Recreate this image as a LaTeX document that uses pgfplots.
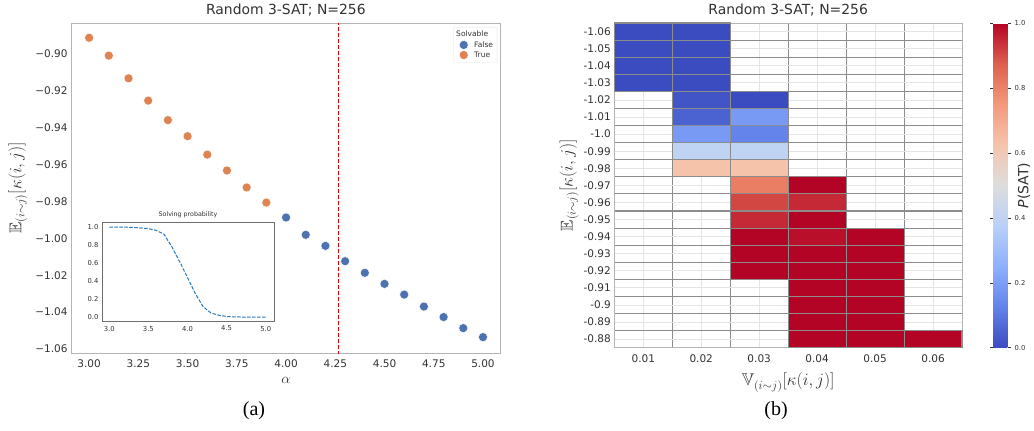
\documentclass[border=0pt]{standalone}
\usepackage{fontspec}
\usepackage{amsmath,amssymb}
\usepackage{pgfplots}
\pgfplotsset{compat=1.18}
\setmainfont{DejaVu Sans}
\newfontfamily\timesf{Liberation Serif}
\definecolor{sbblue}{RGB}{76,114,176}
\definecolor{sborange}{RGB}{221,132,82}
\definecolor{tickgray}{RGB}{50,50,50}
\definecolor{framegray}{RGB}{180,180,180}
\definecolor{insetgray}{RGB}{110,110,110}
\definecolor{insetblue}{RGB}{40,120,190}
\definecolor{cellgray}{RGB}{140,140,140}
\definecolor{gridfaint}{RGB}{228,228,228}
\pgfplotsset{colormap={coolwarm}{rgb255=(59,76,192) rgb255=(98,130,234) rgb255=(141,176,254) rgb255=(184,208,249) rgb255=(221,221,221) rgb255=(245,196,172) rgb255=(244,154,123) rgb255=(222,96,77) rgb255=(180,4,38)}}
\pgfdeclareplotmark{cell}{\pgfpathrectangle{\pgfpoint{-28.975pt}{-8.545pt}}{\pgfpoint{57.95pt}{17.09pt}}\pgfusepathqfillstroke}
\begin{document}
\begin{tikzpicture}
\useasboundingbox (0pt,0pt) rectangle (1034pt,-431pt);
% ---------------- left panel ----------------
\begin{axis}[
  at={(71pt,-353pt)}, anchor=south west,
  scale only axis, width=429.7pt, height=330pt,
  xmin=2.908, xmax=5.09, ymin=-1.0622, ymax=-0.8832,
  axis line style={framegray, line width=0.9pt},
  major tick length=0pt,
  xtick={3,3.25,3.5,3.75,4,4.25,4.5,4.75,5},
  xticklabels={3.00,3.25,3.50,3.75,4.00,4.25,4.50,4.75,5.00},
  ytick={-1.06,-1.04,-1.02,-1.00,-0.98,-0.96,-0.94,-0.92,-0.90},
  yticklabels={−1.06,−1.04,−1.02,−1.00,−0.98,−0.96,−0.94,−0.92,−0.90},
  tick label style={font=\fontsize{10.5}{12}\selectfont, text=tickgray},
  xticklabel style={yshift=-3pt},
  title={Random 3-SAT; N=256},
  title style={font=\fontsize{13.9}{16}\selectfont, text=tickgray, yshift=-3pt},
  xlabel={$\alpha$},
  xlabel style={font=\fontsize{15}{17}\selectfont, text=tickgray, yshift=-3pt},
  ylabel={$\mathbb{E}_{(i\sim j)}[\kappa(i,j)]$},
  ylabel style={font=\fontsize{17}{19}\selectfont, text=tickgray, yshift=1pt},
  legend style={at={(0.992,0.988)}, anchor=north east, draw=gridfaint, rounded corners=1pt,
    font=\fontsize{7.5}{9}\selectfont, text=tickgray, row sep=-1pt, inner sep=2pt},
  legend cell align=left,
]
\addlegendimage{empty legend}
\addlegendentry{\hspace{-14pt}Solvable}
\addplot[only marks, mark=*, mark size=4.5pt, mark options={fill=sbblue, draw=white, line width=0.4pt}]
 coordinates {(4.0,-0.9887) (4.1,-0.9981) (4.2,-1.0041) (4.3,-1.0124) (4.4,-1.0187) (4.5,-1.0247)
 (4.6,-1.0305) (4.7,-1.0370) (4.8,-1.0427) (4.9,-1.0487) (5.0,-1.0536)};
\addlegendentry{\hspace{4pt}False}
\addplot[only marks, mark=*, mark size=4.5pt, mark options={fill=sborange, draw=white, line width=0.4pt}]
 coordinates {(3.0,-0.8912) (3.1,-0.9009) (3.2,-0.9132) (3.3,-0.9253) (3.4,-0.9359) (3.5,-0.9446)
 (3.6,-0.9546) (3.7,-0.9632) (3.8,-0.9724) (3.9,-0.9806)};
\addlegendentry{\hspace{4pt}True}
\addplot[red!90!black, dashed, line width=1pt, dash pattern=on 4pt off 2pt, forget plot]
 coordinates {(4.267,-1.07) (4.267,-0.87)};
\end{axis}
% ---------------- inset ----------------
\begin{axis}[
  at={(102pt,-321pt)}, anchor=south west,
  scale only axis, width=172pt, height=98.3pt,
  xmin=2.907, xmax=5.106, ymin=-0.044, ymax=1.048,
  axis line style={insetgray, line width=0.8pt},
  axis background/.style={fill=white},
  major tick length=0pt,
  xtick={3,3.5,4,4.5,5}, xticklabels={3.0,3.5,4.0,4.5,5.0},
  ytick={0,0.2,0.4,0.6,0.8,1.0}, yticklabels={0.0,0.2,0.4,0.6,0.8,1.0},
  tick label style={font=\fontsize{6.8}{8}\selectfont, text=tickgray},
  xticklabel style={yshift=-1.5pt},
  title={Solving probability},
  title style={font=\fontsize{6.3}{7}\selectfont, text=tickgray, yshift=-5pt},
]
\addplot[insetblue, dashed, line width=1pt, dash pattern=on 3.5pt off 1.5pt]
 coordinates {(3.0,1.0) (3.1,1.0) (3.2,1.0) (3.3,0.995) (3.4,0.99) (3.5,0.982) (3.6,0.963)
 (3.7,0.92) (3.8,0.78) (3.9,0.615) (4.0,0.44) (4.1,0.26) (4.2,0.115) (4.3,0.045) (4.4,0.02)
 (4.5,0.006) (4.6,0.002) (4.7,0.0) (4.8,0.0) (4.9,0.0) (5.0,0.0)};
\end{axis}
% ---------------- right panel (heatmap) ----------------
\begin{axis}[
  at={(614.3pt,-347.7pt)}, anchor=south west,
  scale only axis, width=347.7pt, height=324.7pt,
  xmin=0.005, xmax=0.065, ymin=-1.065, ymax=-0.875, y dir=reverse,
  scaled x ticks=false, scaled y ticks=false,
  axis line style={framegray, line width=0.9pt},
  major tick length=0pt, minor tick length=0pt,
  xtick={0.01,0.02,0.03,0.04,0.05,0.06},
  xticklabels={0.01,0.02,0.03,0.04,0.05,0.06},
  minor xtick={0.015,0.025,0.035,0.045,0.055},
  ytick={-1.06,-1.05,-1.04,-1.03,-1.02,-1.01,-1.0,-0.99,-0.98,-0.97,-0.96,-0.95,-0.94,-0.93,-0.92,-0.91,-0.9,-0.89,-0.88},
  yticklabels={-1.06,-1.05,-1.04,-1.03,-1.02,-1.01,-1.0,-0.99,-0.98,-0.97,-0.96,-0.95,-0.94,-0.93,-0.92,-0.91,-0.9,-0.89,-0.88},
  minor ytick={-1.055,-1.045,-1.035,-1.025,-1.015,-1.005,-0.995,-0.985,-0.975,-0.965,-0.955,-0.945,-0.935,-0.925,-0.915,-0.905,-0.895,-0.885},
  grid=both,
  major grid style={gridfaint, line width=0.8pt},
  minor grid style={cellgray, line width=1.1pt},
  tick label style={font=\fontsize{10.5}{12}\selectfont, text=tickgray},
  xticklabel style={yshift=-3pt},
  title={Random 3-SAT; N=256},
  title style={font=\fontsize{13.9}{16}\selectfont, text=tickgray, yshift=-3pt},
  xlabel={$\mathbb{V}_{(i\sim j)}[\kappa(i,j)]$},
  xlabel style={font=\fontsize{17}{19}\selectfont, text=tickgray, yshift=-4pt},
  ylabel={$\mathbb{E}_{(i\sim j)}[\kappa(i,j)]$},
  ylabel style={font=\fontsize{17}{19}\selectfont, text=tickgray, yshift=-2pt},
  colormap name=coolwarm,
  point meta min=0, point meta max=1,
  colorbar,
  colorbar style={
    at={(parent axis.north east)}, anchor=north west, xshift=22.5pt,
    width=15pt,
    ytick={0,0.2,0.4,0.6,0.8,1.0}, yticklabels={0.0,0.2,0.4,0.6,0.8,1.0},
    yticklabel pos=right,
    axis line style={draw=none},
    tick align=outside, major tick length=3pt,
    tick style={tickgray, line width=0.5pt},
    tick label style={font=\fontsize{6.8}{8}\selectfont, text=tickgray},
    ylabel={\textit{P}(SAT)},
    every axis y label/.style={at={(axis description cs:1,0.5)}, xshift=16pt, rotate=90, anchor=center,
      font=\fontsize{14}{16}\selectfont, text=tickgray},
  },
]
\addplot[scatter, only marks, mark=cell, point meta=explicit,
  scatter/use mapped color={draw=cellgray, fill=mapped color}, mark options={line width=1.1pt}]
 table[meta=p] {
x y p
0.01 -1.06 0.0
0.02 -1.06 0.0
0.01 -1.05 0.0
0.02 -1.05 0.0
0.01 -1.04 0.0
0.02 -1.04 0.0
0.01 -1.03 0.0
0.02 -1.03 0.0
0.02 -1.02 0.02
0.03 -1.02 0.0
0.02 -1.01 0.05
0.03 -1.01 0.19
0.02 -1.00 0.19
0.03 -1.00 0.13
0.02 -0.99 0.40
0.03 -0.99 0.40
0.02 -0.98 0.63
0.03 -0.98 0.63
0.03 -0.97 0.81
0.04 -0.97 1.0
0.03 -0.96 0.91
0.04 -0.96 0.95
0.03 -0.95 0.95
0.04 -0.95 1.0
0.03 -0.94 1.0
0.04 -0.94 0.985
0.05 -0.94 1.0
0.03 -0.93 1.0
0.04 -0.93 1.0
0.05 -0.93 1.0
0.03 -0.92 1.0
0.04 -0.92 1.0
0.05 -0.92 1.0
0.04 -0.91 1.0
0.05 -0.91 1.0
0.04 -0.90 1.0
0.05 -0.90 1.0
0.04 -0.89 1.0
0.05 -0.89 1.0
0.04 -0.88 1.0
0.05 -0.88 1.0
0.06 -0.88 1.0
};
\end{axis}
% ---------------- captions ----------------
\node[font=\timesf\fontsize{20}{22}\selectfont] at (254pt,-411pt) {(a)};
\node[font=\timesf\fontsize{20}{22}\selectfont] at (776pt,-411pt) {(b)};
\end{tikzpicture}
\end{document}
